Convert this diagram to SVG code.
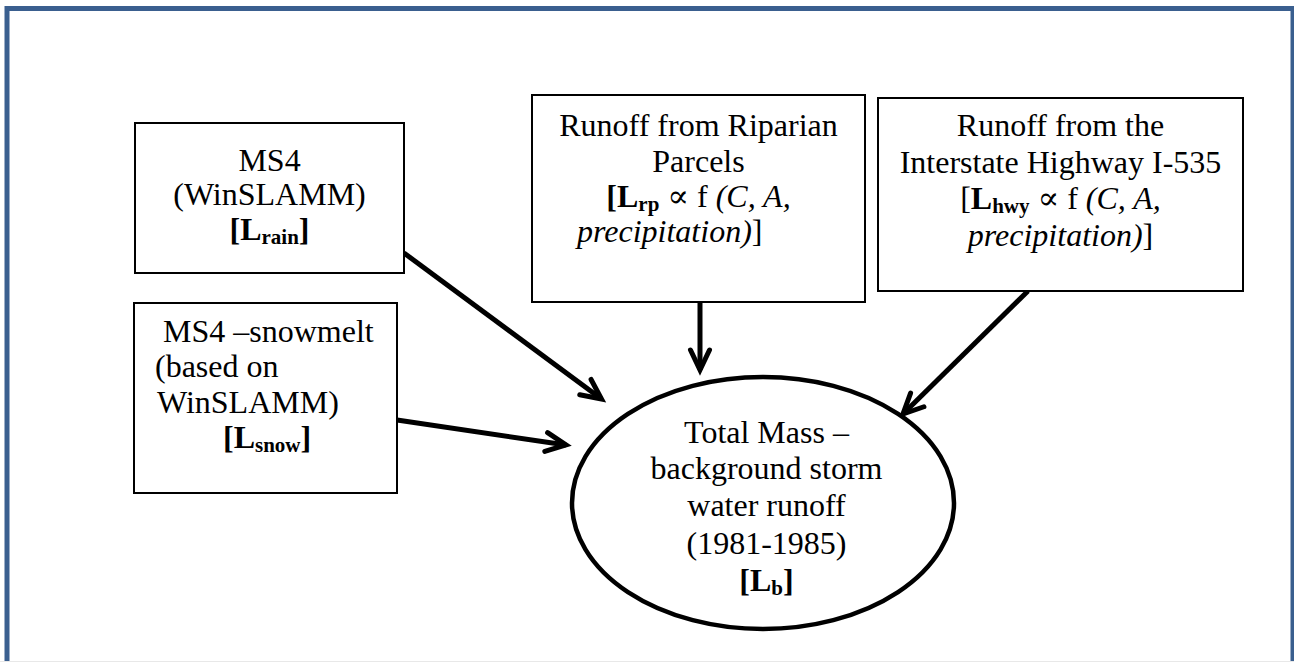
<svg xmlns="http://www.w3.org/2000/svg" width="1294" height="662" viewBox="0 0 1294 662">
  <style>
    .t { font-family: "Liberation Serif", "Times New Roman", "DejaVu Serif", serif; font-size: 32px; fill: #000; }
    .b { font-weight: bold; }
    .i { font-style: italic; }
    .n { font-weight: normal; font-style: normal; }
    .sub { font-size: 21px; font-weight: bold; }
    .box { fill: #fff; stroke: #000; stroke-width: 2; }
    .conn { fill: none; stroke: #000; stroke-width: 5; marker-end: url(#ah); }
  </style>
  <defs>
    <marker id="ah" viewBox="-24 -14 32 28" markerWidth="32" markerHeight="28" refX="0" refY="0" orient="auto" markerUnits="userSpaceOnUse" overflow="visible">
      <path d="M-20,-9.5 L0,0 L-20,9.5" fill="none" stroke="#000" stroke-width="5" stroke-linecap="round" stroke-linejoin="miter"/>
    </marker>
  </defs>
  <rect x="0" y="0" width="1294" height="662" fill="#fff"/>
  <rect x="7" y="8.5" width="1286" height="700" fill="none" stroke="#3A5F8F" stroke-width="5"/>
  <line x1="0" y1="661.5" x2="1294" y2="661.5" stroke="#e8e8e8" stroke-width="1"/>

  <g id="connectors">
    <path class="conn" d="M404,253 L601.5,399"/>
    <path class="conn" d="M397,420 L566,445"/>
    <path class="conn" d="M700,302 L700,370"/>
    <path class="conn" d="M1028,291 L903,414"/>
  </g>

  <g id="node-rain">
    <rect class="box" x="135" y="123" width="269" height="150"/>
    <text class="t" x="269.5" y="171" text-anchor="middle">MS4</text>
    <text class="t" x="269.5" y="205" text-anchor="middle">(WinSLAMM)</text>
    <text class="t b" x="269.5" y="240" text-anchor="middle">[L<tspan class="sub" dy="4">rain</tspan><tspan dy="-4">]</tspan></text>
  </g>

  <g id="node-snow">
    <rect class="box" x="134" y="303" width="263" height="190"/>
    <text class="t" x="163" y="342">MS4 –snowmelt</text>
    <text class="t" x="155" y="377">(based on</text>
    <text class="t" x="157" y="413">WinSLAMM)</text>
    <text class="t b" x="223" y="448">[L<tspan class="sub" dy="4">snow</tspan><tspan dy="-4">]</tspan></text>
  </g>

  <g id="node-riparian">
    <rect class="box" x="532" y="95" width="333" height="207"/>
    <text class="t" x="698.5" y="136" text-anchor="middle">Runoff from Riparian</text>
    <text class="t" x="698.5" y="171.5" text-anchor="middle">Parcels</text>
    <text class="t" x="698.5" y="206.5" text-anchor="middle"><tspan class="b">[L</tspan><tspan class="sub" dy="4">rp</tspan><tspan dy="-4"> ∝ f </tspan><tspan class="i">(C, A,</tspan></text>
    <text class="t" x="577" y="242"><tspan class="i">precipitation)</tspan>]</text>
  </g>

  <g id="node-highway">
    <rect class="box" x="878" y="98" width="365" height="193"/>
    <text class="t" x="1060.5" y="136" text-anchor="middle">Runoff from the</text>
    <text class="t" x="1060.5" y="172.5" text-anchor="middle">Interstate Highway I-535</text>
    <text class="t" x="1060.5" y="209" text-anchor="middle">[<tspan class="b">L</tspan><tspan class="sub" dy="4">hwy</tspan><tspan dy="-4"> ∝ f </tspan><tspan class="i">(C, A,</tspan></text>
    <text class="t" x="1060.5" y="246" text-anchor="middle"><tspan class="i">precipitation)</tspan>]</text>
  </g>

  <g id="node-total">
    <ellipse cx="763" cy="503" rx="191" ry="126" fill="#fff" stroke="#000" stroke-width="4.5"/>
    <text class="t" x="766.5" y="442.5" text-anchor="middle">Total Mass –</text>
    <text class="t" x="766.5" y="479" text-anchor="middle">background storm</text>
    <text class="t" x="766.5" y="516" text-anchor="middle">water runoff</text>
    <text class="t" x="766.5" y="554" text-anchor="middle">(1981-1985)</text>
    <text class="t b" x="766.5" y="591" text-anchor="middle">[L<tspan class="sub" dy="4">b</tspan><tspan dy="-4">]</tspan></text>
  </g>
</svg>
